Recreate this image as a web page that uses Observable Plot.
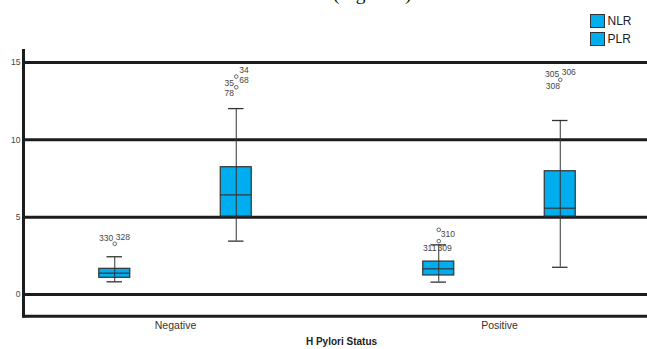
<!DOCTYPE html>
<html>
<head>
<meta charset="utf-8">
<script src="https://cdn.jsdelivr.net/npm/d3@7"></script>
<script src="https://cdn.jsdelivr.net/npm/@observablehq/plot@0.6"></script>
<style>
  html, body { margin: 0; padding: 0; background: #fff; }
  #wrap { position: relative; width: 647px; height: 349px; overflow: hidden; font-family: "Liberation Sans", Arial, sans-serif; }
  #cap { position: absolute; left: 0; top: 0; }
  #legend { position: absolute; left: 590px; top: 12px; font-size: 12px; color: #222; }
  .sw { display: flex; align-items: center; height: 18px; }
  .sw i { display: inline-block; width: 12.5px; height: 12.5px; background: #00aeef; border: 1px solid #333; margin-right: 3px; box-sizing: content-box; }
  #chart { position: absolute; left: 0; top: 0; }
</style>
</head>
<body>
<div id="wrap">
  <div id="chart"></div>
  <svg id="cap" width="647" height="20"><text x="333" y="-0.5" font-family="Liberation Serif, Times New Roman, serif" font-size="19.5" fill="#111">(Figure 2)</text></svg>
  <div id="legend"></div>
</div>
<script>
// ---- data ----
const groups = ["Negative", "Positive"];
const series = ["NLR", "PLR"];
const seriesColor = ["#00aeef", "#00aeef"];

const nlrWhiskerLow  = [0.82, 0.80];
const nlrQ1          = [1.08, 1.23];
const nlrMedian      = [1.38, 1.66];
const nlrQ3          = [1.66, 2.13];
const nlrWhiskerHigh = [2.44, 3.21];

const plrWhiskerLow  = [3.45, 1.76];
const plrQ1          = [5.04, 5.04];
const plrMedian      = [6.44, 5.58];
const plrQ3          = [8.23, 7.97];
const plrWhiskerHigh = [12.02, 11.25];

// outlier circles
const outGroup  = ["Negative", "Negative", "Negative", "Positive", "Positive", "Positive"];
const outSeries = ["NLR", "PLR", "PLR", "NLR", "NLR", "PLR"];
const outValue  = [3.28, 14.09, 13.40, 4.18, 3.45, 13.88];
// outlier case labels (index into the circles above)
const labelText  = ["330", "328", "34", "68", "35", "78", "310", "311", "309", "305", "306", "308"];
const labelPoint = [0, 0, 1, 1, 2, 2, 3, 4, 4, 5, 5, 5];

const yTicks = [0, 5, 10, 15];
const yDomain = [-1.403, 15.776];
const xTitle = "H Pylori Status";

// ---- label placement styles ----
const labelStyle = {
  "330": {a: "end", dx: -1.5, dy: -6},
  "328": {a: "start", dx: 1, dy: -6.6},
  "34":  {a: "start", dx: 3, dy: -6},
  "68":  {a: "start", dx: 3, dy: 4},
  "35":  {a: "end", dx: -2.3, dy: -4},
  "78":  {a: "end", dx: -2.3, dy: 6},
  "310": {a: "start", dx: 2, dy: 4.4},
  "311": {a: "end", dx: -2.3, dy: 7.6},
  "309": {a: "start", dx: -1.3, dy: 7.6},
  "305": {a: "end", dx: -1, dy: -6},
  "306": {a: "start", dx: 1.4, dy: -7.3},
  "308": {a: "end", dx: -0.3, dy: 6}
};

// ---- tables ----
const stats = {
  NLR: [nlrWhiskerLow, nlrQ1, nlrMedian, nlrQ3, nlrWhiskerHigh],
  PLR: [plrWhiskerLow, plrQ1, plrMedian, plrQ3, plrWhiskerHigh]
};
const boxes = [];
series.forEach(s => groups.forEach((g, i) => {
  const [lo, q1, md, q3, hi] = stats[s].map(a => a[i]);
  boxes.push({group: g, series: s, lo, q1, md, q3, hi});
}));
const outliers = outValue.map((v, i) => ({group: outGroup[i], series: outSeries[i], value: v}));
const labels = labelText.map((t, i) => ({...outliers[labelPoint[i]], text: t}));

// layout styles
const bandW = 324;
const half = bandW / 2;
const offset = {NLR: -60.75, PLR: 60.75};
const boxW = 31, capW = 15.5;
const dark = "#333";

const marks = [
  Plot.ruleY(yTicks, {stroke: "#1c1c1c", strokeWidth: 3}),
  Plot.ruleY([yDomain[0]], {stroke: "#1c1c1c", strokeWidth: 3}),
  Plot.frame({anchor: "left", stroke: "#1c1c1c", strokeWidth: 3})
];

series.forEach((s, si) => {
  const off = offset[s];
  const data = boxes.filter(d => d.series === s);
  const bi = {insetLeft: half + off - boxW / 2, insetRight: half - off - boxW / 2};
  const ci = {insetLeft: half + off - capW / 2, insetRight: half - off - capW / 2};
  marks.push(
    Plot.barY(data, {x: "group", y1: "q1", y2: "q3", fill: seriesColor[si], stroke: dark, strokeWidth: 1.2, ...bi}),
    Plot.ruleX(data, {x: "group", y1: "lo", y2: "hi", dx: off, stroke: dark, strokeWidth: 1}),
    Plot.tickY(data, {x: "group", y: "md", stroke: dark, strokeWidth: 1.2, ...bi}),
    Plot.tickY(data, {x: "group", y: "lo", stroke: dark, strokeWidth: 1.3, ...ci}),
    Plot.tickY(data, {x: "group", y: "hi", stroke: dark, strokeWidth: 1.3, ...ci}),
    Plot.dot(outliers.filter(d => d.series === s), {x: "group", y: "value", dx: off, r: 1.8, stroke: "#555", strokeWidth: 0.9, fill: "white"})
  );
  labels.filter(d => d.series === s).forEach(d => {
    const st = labelStyle[d.text];
    marks.push(Plot.text([d], {x: "group", y: "value", text: "text", dx: off + st.dx, dy: st.dy,
      textAnchor: st.a, fontSize: 8.5, fill: "#444"}));
  });
});

marks.push(
  Plot.axisY(yTicks, {tickSize: 0, tickPadding: 3, fontSize: 8.5, color: "#444", label: null}),
  Plot.axisX({tickSize: 0, tickPadding: 5, fontSize: 10.5, color: "#333", label: null}),
  Plot.text([xTitle], {frameAnchor: "bottom", dx: 6, dy: 29, fontWeight: "bold", fontSize: 10, fill: "#222"})
);

const chart = Plot.plot({
  width: 647,
  height: 349,
  marginLeft: 23,
  marginRight: 0,
  marginTop: 50,
  marginBottom: 33.3,
  style: {fontFamily: "'Liberation Sans', Arial, sans-serif", background: "transparent"},
  x: {type: "band", domain: groups, range: [174.75 - half, 498.75 + half], padding: 0},
  y: {domain: yDomain},
  marks
});
document.getElementById("chart").appendChild(chart);

const legend = document.getElementById("legend");
series.forEach((s, i) => {
  const row = document.createElement("div");
  row.className = "sw";
  const sw = document.createElement("i");
  sw.style.background = seriesColor[i];
  row.appendChild(sw);
  row.appendChild(document.createTextNode(s));
  legend.appendChild(row);
});
</script>
</body>
</html>
